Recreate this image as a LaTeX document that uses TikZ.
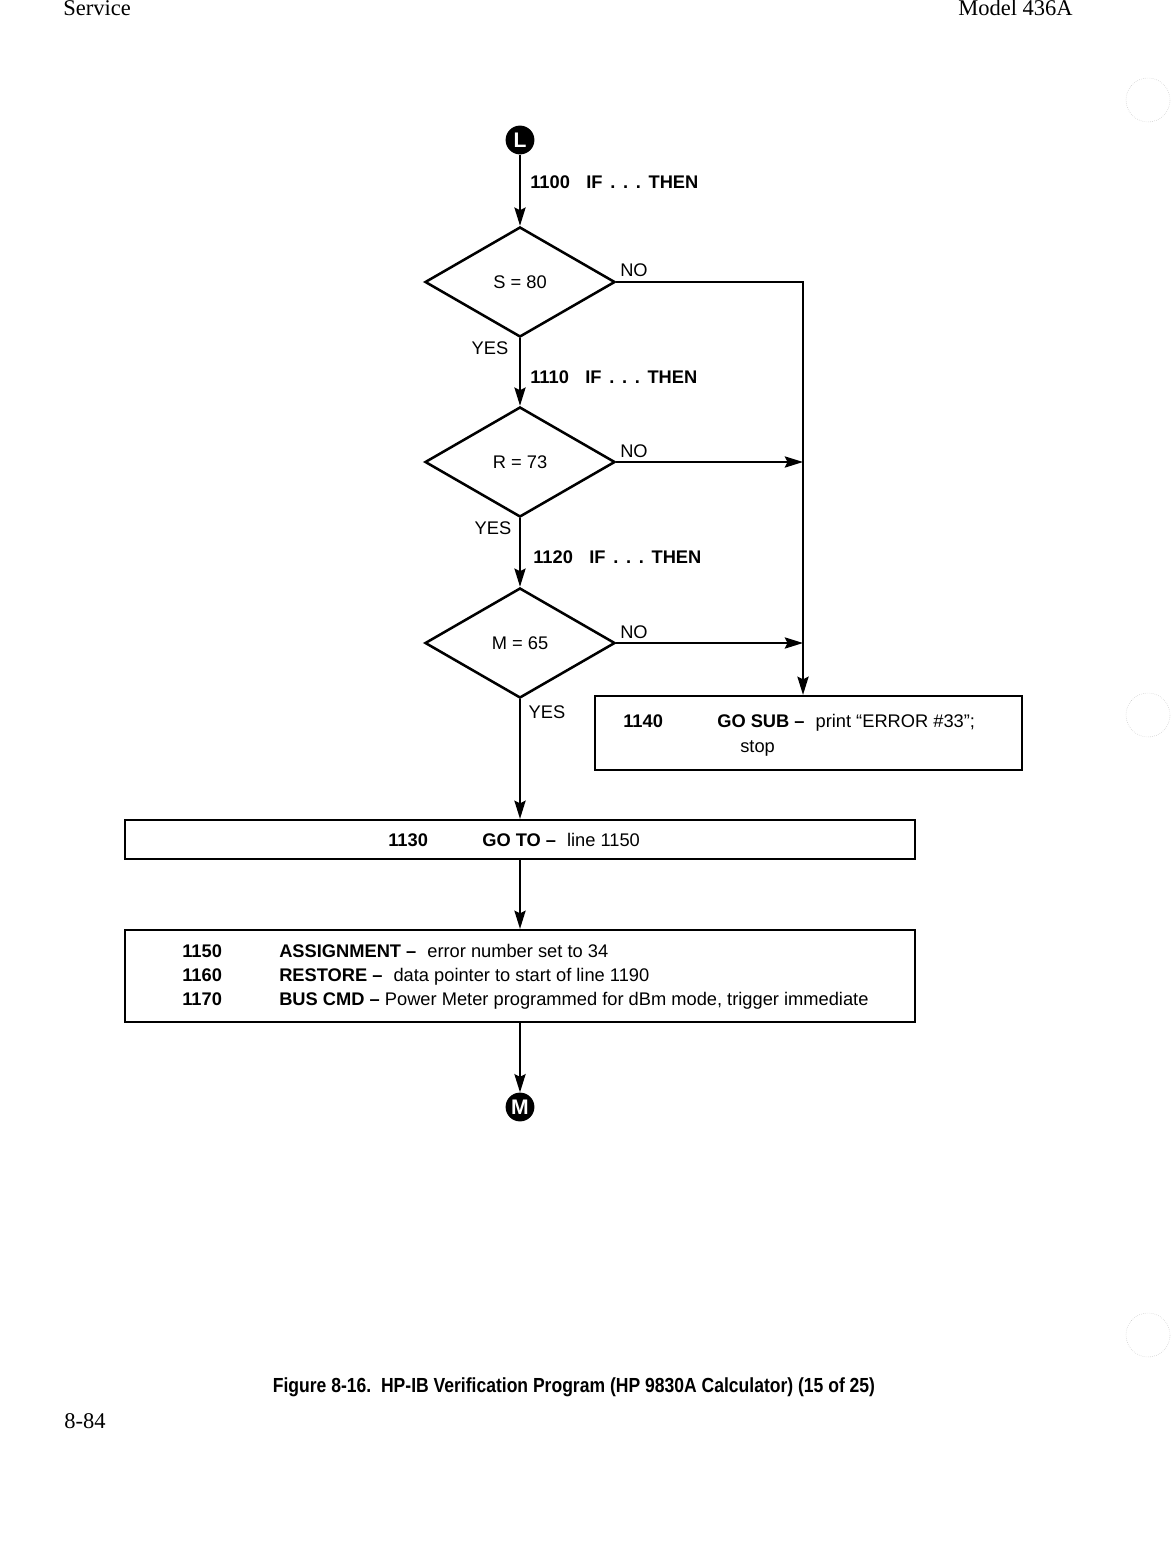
\documentclass[tikz,border=0pt]{standalone}
\usepackage{fontspec}
\setmainfont{Liberation Sans}
\newfontfamily\pagefont{Liberation Serif}
\newfontfamily\capfont[FakeStretch=0.86]{Liberation Sans}
\usetikzlibrary{shapes.geometric,arrows.meta}
\tikzset{
    decision/.style={
        diamond,
        draw,
        line width=1.8pt,
        minimum width=4.75cm,
        minimum height=2.75cm,
        inner sep=0mm,
        font=\fontsize{13}{15}\selectfont
    },
    stepbox/.style={draw,line width=1.6pt,inner sep=0mm},
    flow/.style={line width=1.3pt,-{Stealth[length=13pt,width=8pt,inset=2pt]}},
    lbl/.style={font=\fontsize{13}{15}\selectfont,inner sep=0mm},
    stmt/.style={font=\fontsize{13}{15}\selectfont,anchor=base west,inner sep=0mm},
    conn/.style={circle,fill=black,minimum size=0.72cm,inner sep=0mm,text=white,font=\fontsize{15}{15}\selectfont\bfseries},
    pagetext/.style={font=\pagefont\fontsize{16}{16}\selectfont,inner sep=0mm}
}
\newcommand{\connector}[3]{
    \node[conn] (#1) at (#2) {#3};
}
\newcommand{\ifthen}[1]{\textbf{#1\hspace{0.9em}IF\hspace{0.42em}.\hspace{0.42em}.\hspace{0.42em}.\hspace{0.42em}THEN}}

\begin{document}
\begin{tikzpicture}[x=0.025cm,y=-0.025cm]
    \useasboundingbox (0,0) rectangle (1176,1544);
    \node[pagetext,anchor=base west] (hdl) at (63,16) {Service};
    \node[pagetext,anchor=base east] (hdr) at (1073,16) {Model 436A};
    \node[pagetext,anchor=base west] (pgno) at (64,1428) {8-84};
    \foreach \y in {100,715,1335}
        \draw[gray!45,densely dotted] (1148,\y) circle[radius=22];

    \connector{L}{520,140}{L}
    \node[decision] (d1) at (520,282) {S = 80};
    \node[decision] (d2) at (520,462) {R = 73};
    \node[decision] (d3) at (520,643) {M = 65};
    \node[stepbox,minimum width=10.675cm,minimum height=1.85cm] (sub) at (808.5,733) {};
    \node[stepbox,minimum width=19.75cm,minimum height=0.975cm] (goto) at (520,839.5) {};
    \node[stepbox,minimum width=19.75cm,minimum height=2.3cm] (blk) at (520,976) {};
    \connector{M}{520,1107}{M}
    \coordinate (j1) at (803,282);

    \node[stmt] (s1100) at (530,189) {\ifthen{1100}};
    \node[stmt] (s1110) at (530,383) {\ifthen{1110}};
    \node[stmt] (s1120) at (533,563) {\ifthen{1120}};
    \node[lbl] (no1) at (634,270) {NO};
    \node[lbl] (no2) at (634,451) {NO};
    \node[lbl] (no3) at (634,632) {NO};
    \node[lbl] (yes1) at (490,348) {YES};
    \node[lbl] (yes2) at (493,528) {YES};
    \node[lbl] (yes3) at (547,712) {YES};

    \node[stmt] (n1140) at (623,727) {\textbf{1140}};
    \node[stmt] (t1140) at (717,727) {\textbf{GO SUB --}\hspace{0.6em}print ``ERROR \#33'';};
    \node[stmt] (t1140b) at (740,752) {stop};
    \node[stmt] (n1130) at (388,846) {\textbf{1130}};
    \node[stmt] (t1130) at (482,846) {\textbf{GO TO --}\hspace{0.6em}line 1150};
    \foreach \n/\t/\y in {
        1150/{\textbf{ASSIGNMENT --}\hspace{0.6em}error number set to 34}/957,
        1160/{\textbf{RESTORE --}\hspace{0.6em}data pointer to start of line 1190}/981,
        1170/{\textbf{BUS CMD --} Power Meter programmed for dBm mode, trigger immediate}/1005
    }{
        \node[stmt] (n\n) at (182,\y) {\textbf{\n}};
        \node[stmt] (t\n) at (279,\y) {\t};
    }

    \draw[flow] (L) -- (d1.north);
    \draw[flow] (d1.south) -- (d2.north);
    \draw[flow] (d2.south) -- (d3.north);
    \draw[flow] (d3.south) -- (goto.north);
    \draw[flow] (goto.south) -- (blk.north);
    \draw[flow] (blk.south) -- (M);
    \draw[flow] (d1.east) -- (j1) -- (j1 |- sub.north);
    \draw[flow] (d2.east) -- (d2.east -| j1);
    \draw[flow] (d3.east) -- (d3.east -| j1);

    \node[font=\capfont\bfseries\fontsize{14.5}{16}\selectfont,inner sep=0mm] (cap) at (574,1387) {Figure 8-16.\ \ HP-IB Verification Program (HP 9830A Calculator) (15 of 25)};
\end{tikzpicture}
\end{document}
